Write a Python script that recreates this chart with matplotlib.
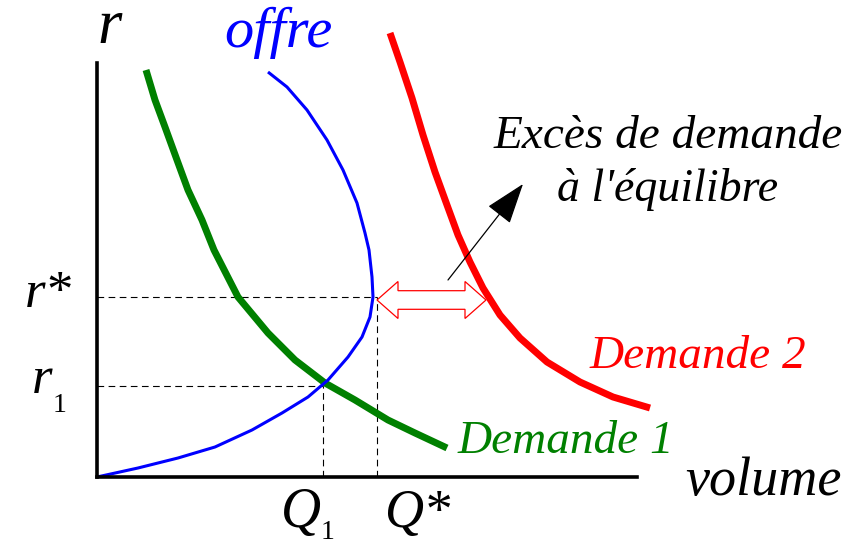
import matplotlib
matplotlib.use("Agg")
import matplotlib.pyplot as plt
from matplotlib.patches import Polygon

demande1_x = [0.49, 0.58, 0.68, 0.80, 0.91, 1.05, 1.17, 1.41, 1.71, 1.98, 2.28, 2.58, 2.91, 3.18, 3.50]
demande1_y = [4.07, 3.77, 3.50, 3.17, 2.87, 2.57, 2.27, 1.80, 1.44, 1.17, 0.94, 0.77, 0.57, 0.44, 0.29]

offre_x = [0.00, 0.41, 0.81, 1.18, 1.55, 1.85, 2.11, 2.31, 2.51, 2.65, 2.73, 2.76,
           2.75, 2.72, 2.68, 2.60, 2.46, 2.30, 2.10, 1.90, 1.71]
offre_y = [0.00, 0.09, 0.19, 0.30, 0.47, 0.64, 0.80, 0.97, 1.20, 1.40, 1.60, 1.80,
           2.00, 2.27, 2.44, 2.74, 3.07, 3.37, 3.67, 3.90, 4.05]

demande2_x = [2.93, 3.03, 3.15, 3.26, 3.38, 3.50, 3.61, 3.73, 3.86, 4.03, 4.23, 4.50, 4.83, 5.16, 5.53]
demande2_y = [4.44, 4.15, 3.79, 3.42, 3.05, 2.72, 2.42, 2.15, 1.89, 1.62, 1.39, 1.15, 0.95, 0.80, 0.69]

# points remarquables
q1, r1 = 2.26, 0.91
q_star, r_star = 2.80, 1.80
exces_fin = 3.89          # bout droit de la double flèche
exces_y = 1.77
fleche_debut = (3.51, 1.97)
fleche_fin = (4.26, 2.93)

FONT = "Liberation Serif"

fig = plt.figure(figsize=(8.6, 5.44), dpi=100)
ax = fig.add_axes([97 / 860, 67 / 544, 540 / 860, 414 / 544])
ax.set_xlim(0, 5.4)
ax.set_ylim(0, 4.14)
ax.set_xticks([])
ax.set_yticks([])
for s in ["top", "right"]:
    ax.spines[s].set_visible(False)
for s in ["left", "bottom"]:
    ax.spines[s].set_linewidth(2.6)
    ax.spines[s].set_capstyle("projecting")

# pointillés
dash = dict(color="black", lw=0.8, ls=(0, (6, 4)), clip_on=False)
ax.plot([0, q_star], [r_star, r_star], **dash)
ax.plot([q_star, q_star], [0, r_star], **dash)
ax.plot([0, q1], [r1, r1], **dash)
ax.plot([q1, q1], [0, r1], **dash)

# courbes
courbe = dict(clip_on=False, solid_capstyle="butt", solid_joinstyle="round")
ax.plot(demande1_x, demande1_y, color="#008000", lw=5, **courbe)
ax.plot(offre_x, offre_y, color="blue", lw=2.2, **courbe)
ax.plot(demande2_x, demande2_y, color="red", lw=5, **courbe)

# double flèche creuse
hs, hh, hl = 0.093, 0.185, 0.21
x0, x1, y = q_star, exces_fin, exces_y
verts = [(x0, y), (x0 + hl, y + hh), (x0 + hl, y + hs), (x1 - hl, y + hs), (x1 - hl, y + hh),
         (x1, y), (x1 - hl, y - hh), (x1 - hl, y - hs), (x0 + hl, y - hs), (x0 + hl, y - hh)]
ax.add_patch(Polygon(verts, closed=True, fc="white", ec="red", lw=0.9, zorder=4, clip_on=False))

# flèche noire
ax.annotate("", xy=fleche_fin, xytext=fleche_debut,
            arrowprops=dict(arrowstyle="-|>,head_length=1.3,head_width=0.45", lw=0.9,
                            color="black", mutation_scale=20, shrinkA=0, shrinkB=0),
            annotation_clip=False)

# textes
it = dict(family=FONT, style="italic", clip_on=False)
ax.text(0.0, 4.34, "r", fontsize=45, ha="left", va="baseline", **it)
ax.text(1.27, 4.30, "offre", fontsize=42, color="blue", ha="left", va="baseline", **it)
ax.text(5.71, 3.29, "Excès de demande", fontsize=34, ha="center", va="baseline", **it)
ax.text(5.71, 2.76, "à l'équilibre", fontsize=33, ha="center", va="baseline", **it)
ax.text(4.93, 1.09, "Demande 2", fontsize=34, color="red", ha="left", va="baseline", **it)
ax.text(3.61, 0.24, "Demande 1", fontsize=34, color="#008000", ha="left", va="baseline", **it)
ax.text(5.88, -0.18, "volume", fontsize=39, ha="left", va="baseline", **it)

ax.text(-0.72, 1.70, "r*", fontsize=38, ha="left", va="baseline", **it)
ax.text(-0.65, 0.84, "r", fontsize=38, ha="left", va="baseline", **it)
ax.text(-0.44, 0.65, "1", fontsize=20, family=FONT, ha="left", va="baseline", clip_on=False)
ax.text(1.84, -0.50, "Q", fontsize=40, ha="left", va="baseline", **it)
ax.text(2.24, -0.62, "1", fontsize=20, family=FONT, ha="left", va="baseline", clip_on=False)
ax.text(2.87, -0.50, "Q*", fontsize=39, ha="left", va="baseline", **it)

fig.savefig("out.png", dpi=100)
